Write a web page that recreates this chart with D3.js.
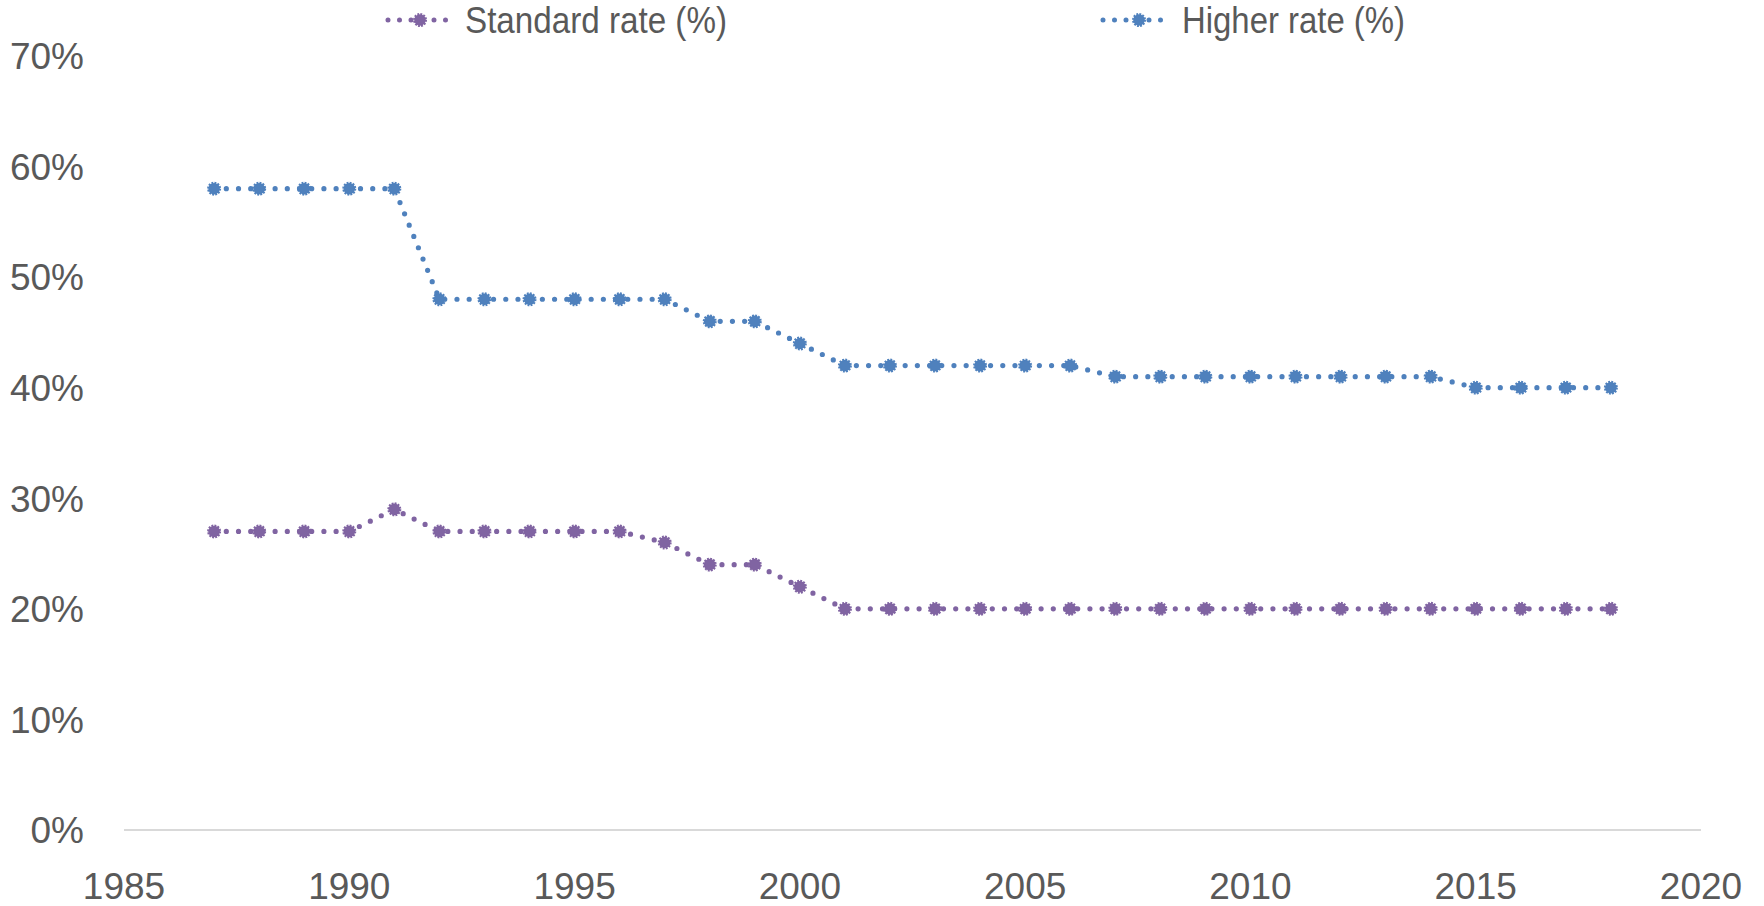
<!DOCTYPE html>
<html>
<head>
<meta charset="utf-8">
<script src="https://cdn.jsdelivr.net/npm/d3@7"></script>
<style>
  html, body { margin: 0; padding: 0; background: #fff; }
  svg { display: block; }
  text { font-family: "Liberation Sans", Arial, sans-serif; fill: #595959; }
</style>
</head>
<body>
<svg id="chart" width="1764" height="906"></svg>
<script>
const years = [1987,1988,1989,1990,1991,1992,1993,1994,1995,1996,1997,1998,1999,2000,2001,2002,2003,2004,2005,2006,2007,2008,2009,2010,2011,2012,2013,2014,2015,2016,2017,2018];
const standardRate = [27,27,27,27,29,27,27,27,27,27,26,24,24,22,20,20,20,20,20,20,20,20,20,20,20,20,20,20,20,20,20,20];
const higherRate = [58,58,58,58,58,48,48,48,48,48,48,46,46,44,42,42,42,42,42,42,41,41,41,41,41,41,41,41,40,40,40,40];
const seriesNames = ["Standard rate (%)", "Higher rate (%)"];
const seriesColors = ["#8064A2", "#4F81BD"];
const xTicks = [1985,1990,1995,2000,2005,2010,2015,2020];
const yTicks = [0,10,20,30,40,50,60,70];

const svg = d3.select("#chart");
const x = d3.scaleLinear().domain([1985, 2020]).range([124, 1701]);
const y = d3.scaleLinear().domain([0, 70]).range([830, 56]);

// axis line at 0
svg.append("line")
  .attr("x1", x(1985)).attr("x2", x(2020))
  .attr("y1", y(0)).attr("y2", y(0))
  .attr("stroke", "#D9D9D9").attr("stroke-width", 2);

// y tick labels
svg.append("g").selectAll("text").data(yTicks).join("text")
  .attr("x", 84).attr("y", d => y(d))
  .attr("dy", "0.36em")
  .attr("text-anchor", "end")
  .attr("font-size", 37)
  .text(d => d + "%");

// x tick labels
svg.append("g").selectAll("text").data(xTicks).join("text")
  .attr("x", d => x(d)).attr("y", 899)
  .attr("text-anchor", "middle")
  .attr("font-size", 37)
  .text(d => d);

const series = [
  { name: seriesNames[0], color: seriesColors[0], values: standardRate },
  { name: seriesNames[1], color: seriesColors[1], values: higherRate }
];

const line = d3.line().x(d => x(d[0])).y(d => y(d[1]));

function drawMarker(g, cx, cy, color) {
  g.append("circle")
    .attr("cx", cx).attr("cy", cy).attr("r", 5.8)
    .attr("fill", color)
    .attr("stroke", color).attr("stroke-width", 2.4)
    .attr("stroke-dasharray", "1.8 1.2");
}

series.forEach(s => {
  const pts = years.map((yr, i) => [yr, s.values[i]]);
  svg.append("path")
    .attr("d", line(pts))
    .attr("fill", "none")
    .attr("stroke", s.color)
    .attr("stroke-width", 5.2)
    .attr("stroke-linecap", "round")
    .attr("stroke-dasharray", "0 12.2");
  const g = svg.append("g");
  pts.forEach(p => drawMarker(g, x(p[0]), y(p[1]), s.color));
});

// legend
const legendItems = [
  { name: seriesNames[0], color: seriesColors[0], x1: 388, x2: 452, mx: 420, tx: 465, tw: 262 },
  { name: seriesNames[1], color: seriesColors[1], x1: 1103, x2: 1167, mx: 1139, tx: 1182, tw: 223 }
];
legendItems.forEach(l => {
  svg.append("line")
    .attr("x1", l.x1).attr("x2", l.x2).attr("y1", 20).attr("y2", 20)
    .attr("stroke", l.color).attr("stroke-width", 5)
    .attr("stroke-linecap", "round").attr("stroke-dasharray", "0 11.5");
  drawMarker(svg, l.mx, 20, l.color);
  svg.append("text")
    .attr("x", l.tx).attr("y", 20).attr("dy", "0.36em")
    .attr("font-size", 36)
    .attr("textLength", l.tw).attr("lengthAdjust", "spacingAndGlyphs")
    .text(l.name);
});
</script>
</body>
</html>
